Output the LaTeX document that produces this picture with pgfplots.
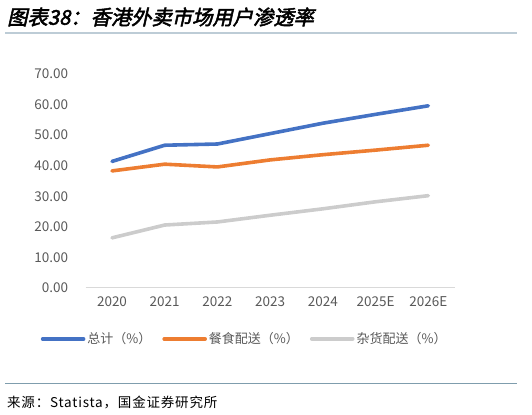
\documentclass[border=0pt]{standalone}
\usepackage{fontspec}
\setmainfont{Noto Sans CJK SC}
\newfontfamily\titlefont{Noto Sans CJK SC}[FakeSlant=0.22, FakeBold=2.5]
\usepackage{pgfplots}
\pgfplotsset{compat=1.18}

\definecolor{zongji}{HTML}{4472C4}
\definecolor{canshi}{HTML}{ED7D31}
\definecolor{zahuo}{HTML}{CCCCCC}
\definecolor{ticktext}{HTML}{595959}
\definecolor{toprule}{HTML}{BDCCD6}
\definecolor{botrule}{HTML}{7F9DAD}

\pgfplotstableread{
x total food grocery
0 41.4 38.3 16.4
1 46.7 40.5 20.6
2 47.1 39.6 21.6
3 50.5 41.9 23.8
4 53.9 43.6 25.9
5 56.8 45.1 28.2
6 59.6 46.7 30.2
}\penetration

\begin{document}
\begin{tikzpicture}
\path[use as bounding box] (0bp,0bp) rectangle (532bp,415bp);

% title and rules
\node[anchor=west, inner sep=0pt] at (7bp,398bp) {\titlefont\fontsize{20.3bp}{22bp}\selectfont 图表38：香港外卖市场用户渗透率};
\draw[toprule, line width=2bp] (5bp,382bp) -- (517bp,382bp);
\draw[botrule, line width=0.8bp] (5bp,32bp) -- (517bp,32bp);
\node[anchor=west, inner sep=0pt] at (7bp,13bp) {\fontsize{13.5bp}{15bp}\selectfont\addfontfeature{LetterSpace=6} 来源：Statista，国金证券研究所};

\begin{axis}[
    at={(112bp,127bp)}, anchor=origin,
    scale only axis,
    width=369bp, height=214bp,
    xmin=-0.5, xmax=6.5,
    ymin=0, ymax=70,
    ytick={0,10,...,70},
    xtick=data,
    xticklabels={2020,2021,2022,2023,2024,2025E,2026E},
    axis y line*=left,
    axis x line*=bottom,
    y axis line style={draw=none},
    x axis line style={draw=black!15, line width=1bp, -},
    major tick length=0pt,
    tick label style={font=\fontsize{13.5bp}{15bp}\selectfont, text=ticktext},
    xticklabel style={yshift=-5bp},
    yticklabel style={xshift=-14bp},
    /pgf/number format/assume math mode=true,
    yticklabel={\pgfmathprintnumber[fixed, fixed zerofill, precision=2]{\tick}},
    legend style={
        at={(-0.122,-0.238)}, anchor=west,
        draw=none, fill=none, inner sep=0pt,
        font=\fontsize{13bp}{15bp}\selectfont,
        text=ticktext,
        legend columns=3,
        /tikz/every even column/.append style={column sep=9bp},
    },
    legend image code/.code={\draw[#1] (0bp,0bp) -- (41bp,0bp);},
    every axis plot/.append style={line width=3.6bp, line cap=round, line join=round, mark=none},
]
\addplot[zongji] table[x=x, y=total] {\penetration};
\addlegendentry{总计（\%）}
\addplot[canshi] table[x=x, y=food] {\penetration};
\addlegendentry{餐食配送（\%）}
\addplot[zahuo] table[x=x, y=grocery] {\penetration};
\addlegendentry{杂货配送（\%）}
\end{axis}
\end{tikzpicture}
\end{document}
